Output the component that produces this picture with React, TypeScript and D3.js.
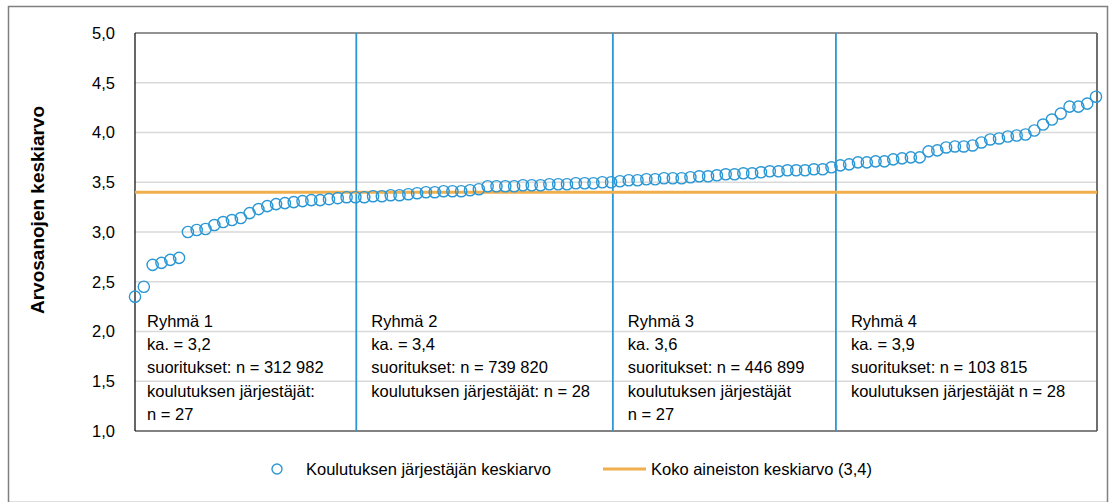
import React from 'react';
import * as d3 from 'd3';

// Koulutuksen järjestäjien keskiarvot ryhmittäin (järjestetty)
const group1 = [2.35, 2.45, 2.67, 2.69, 2.72, 2.74, 3.0, 3.02, 3.03, 3.07, 3.1, 3.12, 3.14, 3.19, 3.23, 3.26, 3.28, 3.29, 3.3, 3.31, 3.32, 3.32, 3.33, 3.34, 3.35, 3.35, 3.35];
const group2 = [3.36, 3.36, 3.37, 3.37, 3.38, 3.39, 3.4, 3.4, 3.41, 3.41, 3.41, 3.42, 3.43, 3.46, 3.46, 3.46, 3.46, 3.47, 3.47, 3.47, 3.48, 3.48, 3.48, 3.49, 3.49, 3.49, 3.5, 3.5];
const group3 = [3.51, 3.52, 3.52, 3.53, 3.53, 3.54, 3.54, 3.54, 3.55, 3.56, 3.56, 3.57, 3.58, 3.58, 3.59, 3.59, 3.6, 3.61, 3.61, 3.62, 3.62, 3.62, 3.63, 3.63, 3.65, 3.67, 3.68];
const group4 = [3.7, 3.7, 3.71, 3.71, 3.73, 3.74, 3.75, 3.75, 3.81, 3.82, 3.85, 3.86, 3.86, 3.87, 3.9, 3.93, 3.94, 3.96, 3.97, 3.98, 4.02, 4.08, 4.13, 4.19, 4.26, 4.26, 4.29, 4.36];
const overallMean = 3.4;
const yTicks = [1.0, 1.5, 2.0, 2.5, 3.0, 3.5, 4.0, 4.5, 5.0];
const dividerPositions = [25.1, 54.2, 79.5];
const groupLabels = [
  ['Ryhmä 1', 'ka. = 3,2', 'suoritukset: n = 312 982', 'koulutuksen järjestäjät:', 'n = 27'],
  ['Ryhmä 2', 'ka. = 3,4', 'suoritukset: n = 739 820', 'koulutuksen järjestäjät: n = 28'],
  ['Ryhmä 3', 'ka. 3,6', 'suoritukset: n = 446 899', 'koulutuksen järjestäjät', 'n = 27'],
  ['Ryhmä 4', 'ka. = 3,9', 'suoritukset: n = 103 815', 'koulutuksen järjestäjät n = 28'],
];
const yTitle = 'Arvosanojen keskiarvo';
const legendPoint = 'Koulutuksen järjestäjän keskiarvo';
const legendLine = 'Koko aineiston keskiarvo (3,4)';

const W = 1110;
const H = 502;
const FONT = '"Liberation Sans", Arial, sans-serif';
const BLUE = '#2a97d4';
const ORANGE = '#f0ae4c';

export default function App() {
  const values = [...group1, ...group2, ...group3, ...group4];
  const plot = { left: 135, right: 1096, top: 33, bottom: 431 };
  const x = d3.scaleLinear().domain([0, values.length - 1]).range([plot.left, plot.right]);
  const y = d3.scaleLinear().domain([1, 5]).range([plot.bottom, plot.top]);
  const fmt = (v: number) => d3.format('.1f')(v).replace('.', ',');
  const labelX = [plot.left + 12, ...dividerPositions.map((d) => x(d) + 15)];

  return (
    <svg width={W} height={H} style={{ position: 'absolute', left: 0, top: 0, background: '#fff' }} fontFamily={FONT}>
      <rect x={8.5} y={6.5} width={1099} height={496} fill="#fff" stroke="#7f7f7f" strokeWidth={1.5} />
      {yTicks.filter((t) => t > 1 && t < 5).map((t) => (
        <line key={'g' + t} x1={plot.left} x2={plot.right + 1} y1={y(t)} y2={y(t)} stroke="#d9d9d9" strokeWidth={1.5} />
      ))}
      <line x1={plot.left} x2={plot.right + 1} y1={y(5)} y2={y(5)} stroke="#262626" strokeWidth={1} />
      <line x1={plot.right + 1} x2={plot.right + 1} y1={y(5)} y2={y(1)} stroke="#6f6f6f" strokeWidth={2} />
      <line x1={plot.left} x2={plot.right + 1} y1={y(1)} y2={y(1)} stroke="#595959" strokeWidth={1.5} />
      <line x1={plot.left} x2={plot.left} y1={y(5)} y2={y(1)} stroke="#000" strokeWidth={1.2} />
      {yTicks.map((t) => (
        <text key={'t' + t} x={115} y={y(t)} dy="0.35em" textAnchor="end" fontSize={16.5} fill="#000">
          {fmt(t)}
        </text>
      ))}
      <text transform={`translate(37,${210}) rotate(-90)`} textAnchor="middle" dy="0.35em" fontSize={19} fontWeight="bold" fill="#000">
        {yTitle}
      </text>
      {dividerPositions.map((d, i) => (
        <line key={'d' + i} x1={x(d)} x2={x(d)} y1={y(5)} y2={y(1)} stroke={BLUE} strokeWidth={1.8} />
      ))}
      <line x1={plot.left} x2={plot.right + 1} y1={y(overallMean)} y2={y(overallMean)} stroke={ORANGE} strokeWidth={3} />
      {values.map((v, i) => (
        <circle key={'c' + i} cx={x(i)} cy={y(v)} r={5.6} fill="none" stroke={BLUE} strokeWidth={1.4} />
      ))}
      {groupLabels.map((lines, gi) => (
        <text key={'l' + gi} x={labelX[gi]} y={327} fontSize={16.5} fill="#000">
          {lines.map((ln, li) => (
            <tspan key={li} x={labelX[gi]} y={327 + li * 23.2}>
              {ln}
            </tspan>
          ))}
        </text>
      ))}
      <circle cx={277} cy={469} r={5} fill="none" stroke={BLUE} strokeWidth={1.4} />
      <text x={306} y={469} dy="0.35em" fontSize={16.5} fill="#000">{legendPoint}</text>
      <line x1={603} x2={646} y1={469} y2={469} stroke={ORANGE} strokeWidth={3} />
      <text x={651} y={469} dy="0.35em" fontSize={16.5} fill="#000">{legendLine}</text>
    </svg>
  );
}
